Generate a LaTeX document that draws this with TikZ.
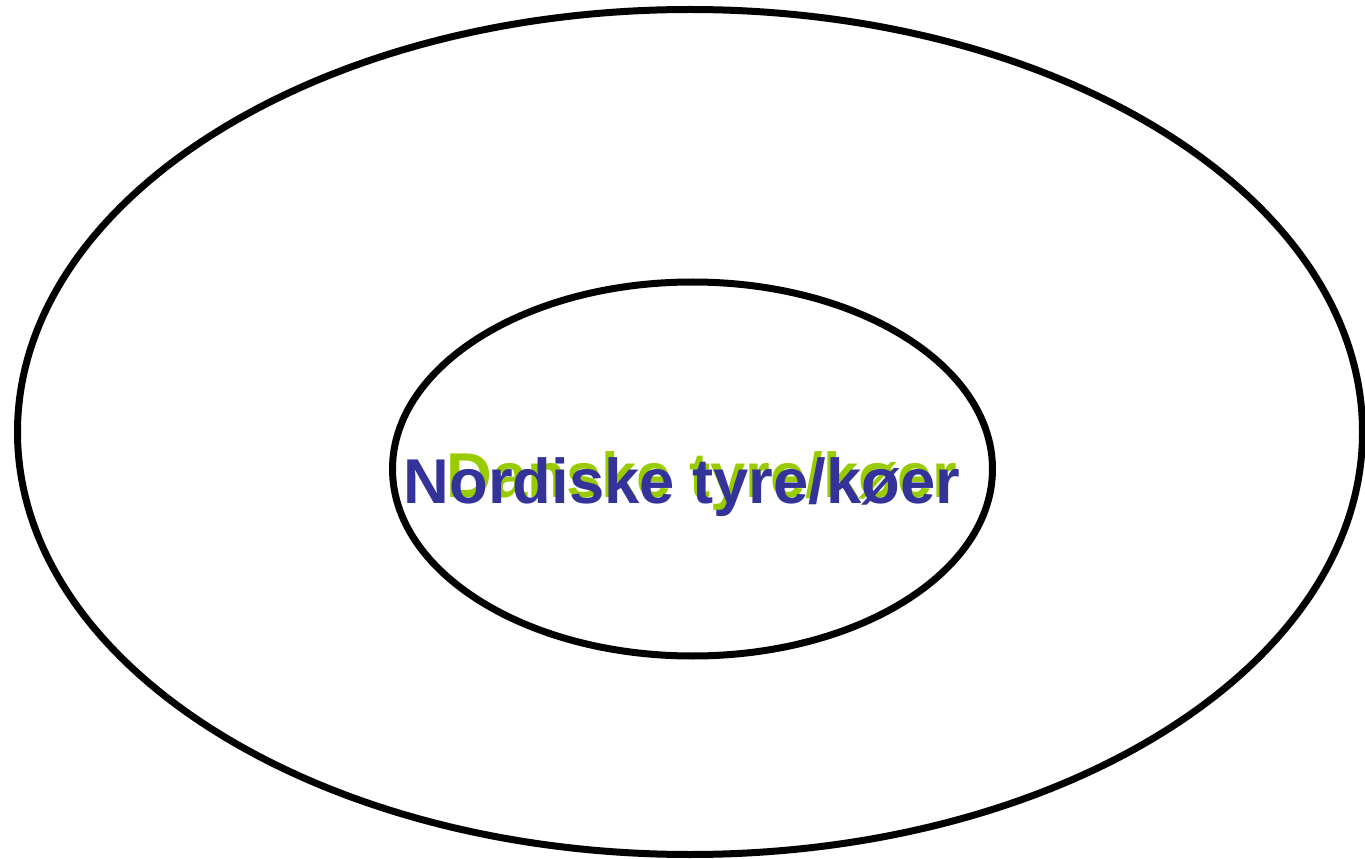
\documentclass[tikz,border=0pt]{standalone}
\usepackage{fontspec}
\setmainfont{Liberation Sans}
\definecolor{nordblue}{HTML}{333399}
\definecolor{dangreen}{HTML}{99CC00}
\tikzset{
  ring/.style={draw=black, line width=5.25pt},
  label/.style={font=\bfseries\fontsize{47.5}{47.5}\selectfont, inner sep=0pt, anchor=base}
}
\begin{document}
\begin{tikzpicture}[x=0.75pt,y=-0.75pt]
  \useasboundingbox (0,0) rectangle (1365,859);
  % outer and inner sets
  \draw[ring] (690,432) ellipse [x radius=672.5, y radius=422.5];
  \draw[ring] (692.5,469) ellipse [x radius=300, y radius=187];
  % labels
  \node[label, text=dangreen] (dan) at (702,498) {Danske tyre/køer};
  \node[label, text=nordblue] (nord) at (682,503.5) {Nordiske tyre/køer};
\end{tikzpicture}
\end{document}
